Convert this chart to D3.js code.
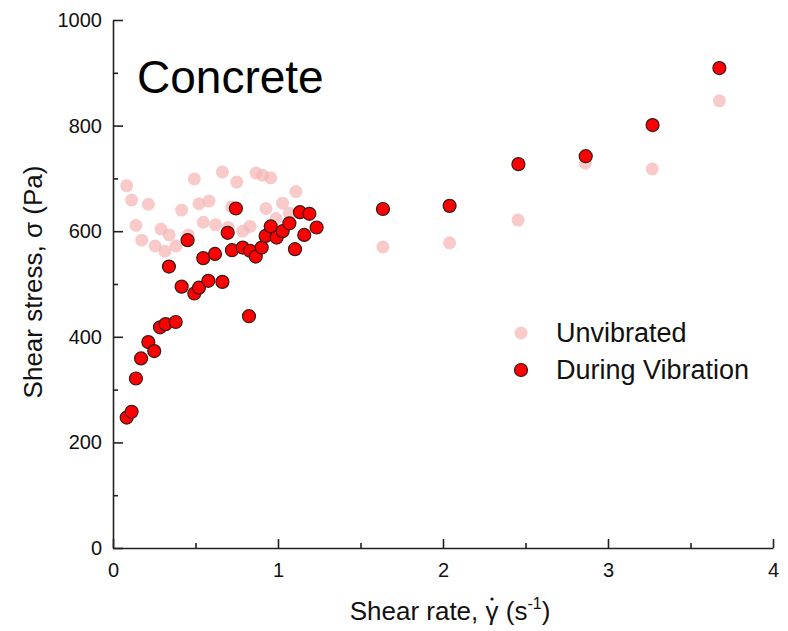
<!DOCTYPE html>
<html lang="en">
<head>
<meta charset="UTF-8">
<style>
  body { margin: 0; background: #fff; }
  text { font-family: "Liberation Sans", Arial, sans-serif; }
</style>
</head>
<body>
<svg id="chart" width="788" height="631"></svg>
<script src="https://d3js.org/d3.v7.min.js"></script>
<script>
// shear rate (1/s) and shear stress (Pa)
var unvibRate = [0.083, 0.113, 0.214, 0.139, 0.174, 0.255, 0.315, 0.291, 0.341, 0.382, 0.416, 0.457,
  0.493, 0.521, 0.582, 0.547, 0.622, 0.663, 0.75, 0.719, 0.699, 0.786, 0.83, 0.867, 0.907, 0.956,
  0.927, 0.988, 1.028, 1.069, 1.109, 1.636, 2.04, 2.455, 2.863, 3.268, 3.675];
var unvibStress = [686, 659, 651, 611, 583, 572, 562, 604, 593, 572, 640, 593,
  699, 652, 657, 617, 612, 712, 693, 646, 607, 600, 609, 710, 706, 701,
  643, 624, 653, 634, 675, 570, 578, 621, 729, 718, 847];

var vibRate = [0.083, 0.113, 0.139, 0.17, 0.214, 0.25, 0.285, 0.319, 0.38, 0.339, 0.416, 0.452,
  0.493, 0.521, 0.547, 0.578, 0.618, 0.663, 0.695, 0.721, 0.745, 0.786, 0.824, 0.83, 0.865, 0.901,
  0.925, 0.956, 0.992, 1.028, 1.069, 1.103, 1.133, 1.159, 1.19, 1.234, 1.636, 2.04, 2.457, 2.865, 3.27, 3.675];
var vibStress = [247, 258, 321, 359, 390, 373, 418, 424, 428, 533, 495, 583,
  482, 493, 549, 506, 557, 504, 597, 564, 643, 569, 439, 563, 552, 569,
  591, 609, 588, 600, 615, 566, 636, 593, 633, 607, 642, 648, 727, 742, 801, 909];

var legendLabels = ["Unvibrated", "During Vibration"];

var svg = d3.select("#chart");
var margin = {left: 113, top: 20, right: 15, bottom: 83};
var width = 788 - margin.left - margin.right,
    height = 631 - margin.top - margin.bottom;

var x = d3.scaleLinear().domain([0, 4]).range([0, width]);
var y = d3.scaleLinear().domain([0, 1000]).range([height, 0]);

var g = svg.append("g").attr("transform", "translate(" + margin.left + "," + margin.top + ")");

// minor ticks
g.append("g")
  .attr("transform", "translate(0," + height + ")")
  .call(d3.axisBottom(x).tickValues(d3.range(0.5, 4, 1)).tickSizeInner(-5).tickSizeOuter(0).tickFormat(""))
  .call(s => s.select(".domain").remove());
g.append("g")
  .call(d3.axisLeft(y).tickValues(d3.range(100, 1000, 200)).tickSizeInner(-5).tickSizeOuter(0).tickFormat(""))
  .call(s => s.select(".domain").remove());

// major axes
g.append("g")
  .attr("transform", "translate(0," + height + ")")
  .call(d3.axisBottom(x).ticks(4).tickFormat(d3.format("d")).tickSizeInner(-9).tickSizeOuter(0).tickPadding(15));
g.append("g")
  .call(d3.axisLeft(y).ticks(5).tickFormat(d3.format("d")).tickSizeInner(-10).tickSizeOuter(0).tickPadding(11));

g.selectAll(".tick line").attr("stroke", "#222").attr("stroke-width", 1.6);
g.selectAll(".domain").attr("stroke", "#222").attr("stroke-width", 1.6);
g.selectAll(".tick text").attr("font-size", 20).attr("fill", "#111")
  .attr("font-family", "'Liberation Sans', Arial, sans-serif");

// points
g.append("g").selectAll("circle")
  .data(unvibRate.map((d, i) => [d, unvibStress[i]]))
  .enter().append("circle")
  .attr("cx", d => x(d[0]))
  .attr("cy", d => y(d[1]))
  .attr("r", 6.5)
  .attr("fill", "#f7b4b4")
  .attr("fill-opacity", 0.7);

g.append("g").selectAll("circle")
  .data(vibRate.map((d, i) => [d, vibStress[i]]))
  .enter().append("circle")
  .attr("cx", d => x(d[0]))
  .attr("cy", d => y(d[1]))
  .attr("r", 6.5)
  .attr("fill", "#ff0000")
  .attr("stroke", "#3a1a1a")
  .attr("stroke-width", 1.2);

// title
svg.append("text")
  .attr("x", 137).attr("y", 93)
  .attr("font-family", "Lato, 'Open Sans', sans-serif")
  .attr("font-size", 46)
  .attr("fill", "#000")
  .text("Concrete");

// legend
var legend = svg.append("g");
legend.append("circle").attr("cx", 521).attr("cy", 333).attr("r", 6.5)
  .attr("fill", "#f7b4b4").attr("fill-opacity", 0.7);
legend.append("circle").attr("cx", 521).attr("cy", 370).attr("r", 6.5)
  .attr("fill", "#ff0000").attr("stroke", "#3a1a1a").attr("stroke-width", 1.2);
legend.selectAll("text").data(legendLabels).enter().append("text")
  .attr("x", 556).attr("y", (d, i) => 342 + i * 37)
  .attr("font-size", 27).attr("fill", "#111")
  .text(d => d);

// axis titles
var xt = svg.append("text")
  .attr("x", 450).attr("y", 620)
  .attr("text-anchor", "middle").attr("font-size", 26).attr("fill", "#111");
xt.append("tspan").text("Shear rate, ");
xt.append("tspan").text("\u03B3");
xt.append("tspan").text(" (s");
xt.append("tspan").attr("font-size", 16).attr("dy", -11).text("-1");
xt.append("tspan").attr("dy", 11).text(")");

// dot above gamma
var gBox = xt.node().getExtentOfChar(12);
svg.append("circle")
  .attr("cx", gBox.x + gBox.width / 2)
  .attr("cy", 620 - 21)
  .attr("r", 1.6)
  .attr("fill", "#111");

svg.append("text")
  .attr("transform", "translate(42,282) rotate(-90)")
  .attr("text-anchor", "middle").attr("font-size", 26).attr("fill", "#111")
  .text("Shear stress, \u03C3 (Pa)");
</script>
</body>
</html>
